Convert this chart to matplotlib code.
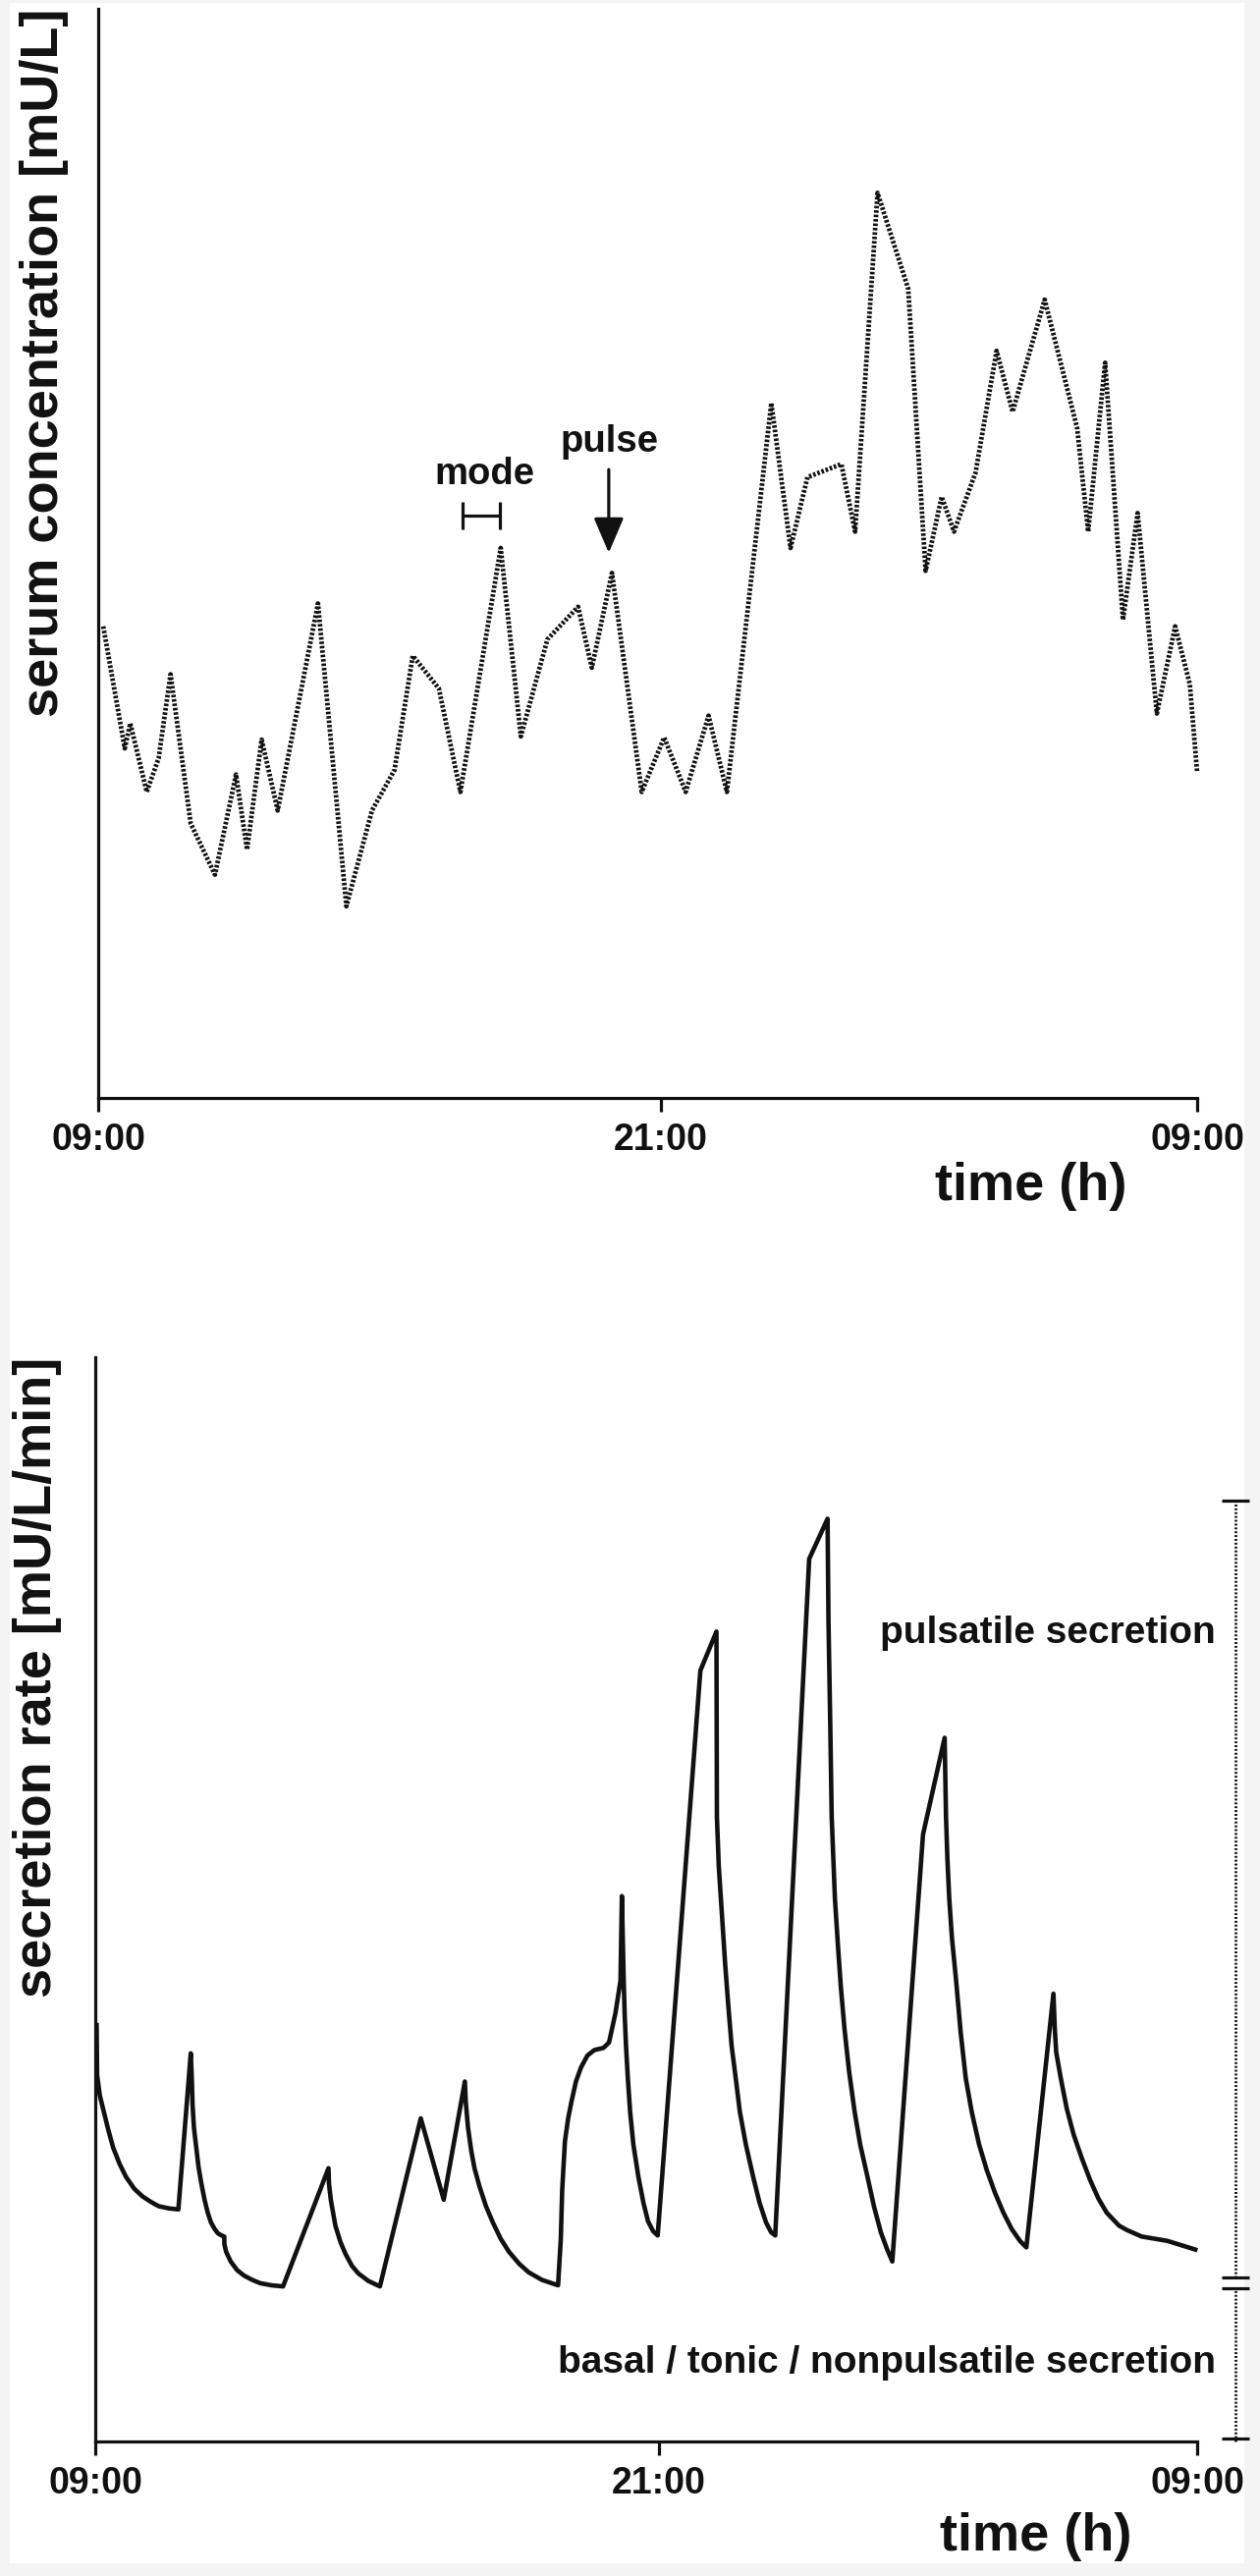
import matplotlib
matplotlib.use("Agg")
import matplotlib.pyplot as plt
import matplotlib.transforms as mtransforms
from matplotlib.patches import Rectangle, FancyArrowPatch

# ---------------- data ----------------
tick_hours = [0, 12.28, 24]
tick_labels = ["09:00", "21:00", "09:00"]

# serum concentration (arbitrary units, axis 0-100), hours after 09:00
top_hours = [0.11, 0.58, 0.70, 1.06, 1.32, 1.58, 2.02, 2.55, 3.01, 3.25,
             3.57, 3.92, 4.80, 5.42, 5.98, 6.47, 6.87, 7.44, 7.91, 8.79,
             9.23, 9.81, 10.48, 10.78, 11.22, 11.87, 12.36, 12.83, 13.33, 13.73,
             14.70, 15.12, 15.49, 16.23, 16.53, 17.02, 17.69, 18.07, 18.42, 18.69,
             19.16, 19.62, 19.97, 20.67, 21.38, 21.62, 21.99, 22.38, 22.70, 23.12,
             23.52, 23.84, 24.0]
conc = [43.3, 32.1, 34.4, 28.1, 31.2, 38.9, 25.2, 20.5, 29.7, 22.8,
        32.9, 26.4, 45.4, 17.6, 26.4, 30.1, 40.6, 37.6, 28.1, 50.5,
        33.2, 42.1, 45.1, 39.5, 48.2, 28.1, 33.1, 28.1, 35.1, 28.1,
        63.8, 50.5, 57.0, 58.2, 52.0, 83.1, 74.3, 48.4, 55.2, 52.0,
        57.4, 68.6, 63.0, 73.3, 61.5, 52.0, 67.5, 43.9, 53.7, 35.3,
        43.3, 38.0, 29.9]

# secretion rate (arbitrary units, axis 0-100)
sec_hours = [0.03, 0.04, 0.10, 0.17, 0.28, 0.39, 0.53, 0.67, 0.85, 1.03,
             1.21, 1.38, 1.60, 1.81, 2.08, 2.10, 2.12, 2.15, 2.20, 2.25,
             2.31, 2.38, 2.45, 2.52, 2.60, 2.67, 2.75, 2.81, 2.812, 2.85,
             2.95, 3.09, 3.24, 3.42, 3.59, 3.84, 4.09, 5.08, 5.09, 5.13,
             5.18, 5.23, 5.34, 5.45, 5.59, 5.73, 5.95, 6.20, 7.09, 7.59,
             8.05, 8.07, 8.12, 8.19, 8.26, 8.37, 8.51, 8.66, 8.83, 9.01,
             9.23, 9.44, 9.73, 10.08, 10.14, 10.17, 10.23, 10.30, 10.37, 10.47,
             10.58, 10.72, 10.87, 11.07, 11.19, 11.33, 11.44, 11.47, 11.51, 11.53,
             11.56, 11.60, 11.65, 11.72, 11.83, 11.94, 12.04, 12.15, 12.25, 13.18,
             13.53, 13.54, 13.58, 13.65, 13.72, 13.79, 13.86, 13.95, 14.04, 14.17,
             14.33, 14.47, 14.61, 14.72, 14.81, 15.55, 15.95, 15.97, 16.01, 16.04,
             16.11, 16.18, 16.24, 16.32, 16.42, 16.54, 16.66, 16.82, 16.96, 17.11,
             17.24, 17.36, 18.03, 18.50, 18.53, 18.56, 18.60, 18.66, 18.75, 18.85,
             18.96, 19.09, 19.25, 19.42, 19.60, 19.78, 19.96, 20.14, 20.28, 20.87,
             20.90, 20.93, 21.03, 21.16, 21.31, 21.49, 21.67, 21.85, 22.03, 22.30,
             22.47, 22.79, 23.35, 23.96]
sec_rate = [38.4, 33.8, 31.9, 30.7, 28.8, 27.1, 25.6, 24.4, 23.3, 22.6,
            22.1, 21.7, 21.5, 21.4, 35.8, 33.8, 31.0, 28.9, 27.1, 25.3,
            23.8, 22.3, 21.1, 20.2, 19.6, 19.2, 19.0, 18.9, 18.2, 17.5,
            16.6, 15.8, 15.3, 14.9, 14.6, 14.4, 14.3, 25.2, 23.8, 22.3,
            21.1, 19.9, 18.4, 17.3, 16.2, 15.5, 14.8, 14.3, 29.8, 22.3,
            33.2, 31.3, 28.9, 26.8, 25.2, 23.5, 21.7, 20.2, 18.7, 17.5,
            16.4, 15.6, 14.9, 14.4, 18.7, 23.2, 27.7, 29.8, 31.3, 33.2,
            34.5, 35.6, 36.1, 36.3, 36.8, 39.5, 42.5, 50.3, 42.5, 39.5,
            36.5, 33.5, 30.4, 27.4, 24.4, 22.0, 20.3, 19.4, 19.0, 71.1,
            74.7, 57.6, 53.1, 48.6, 44.0, 40.1, 36.5, 33.5, 30.4, 27.4,
            24.4, 22.0, 20.2, 19.3, 19.0, 81.4, 85.1, 75.7, 65.8, 57.6,
            50.1, 45.5, 41.9, 38.0, 34.1, 30.4, 27.4, 24.4, 21.7, 19.3,
            17.8, 16.6, 56.0, 64.9, 57.6, 53.8, 50.1, 46.4, 42.5, 37.7,
            33.5, 30.4, 27.4, 25.0, 22.9, 21.1, 19.6, 18.5, 17.9, 41.3,
            38.0, 35.9, 33.5, 30.7, 28.3, 26.1, 24.1, 22.4, 21.1, 19.9,
            19.5, 18.9, 18.5, 17.7]

# ranges marked by the bracket on the right of the lower panel
pulsatile_range = [15.1, 86.8]
basal_range = [0.0, 14.1]

assert len(top_hours) == len(conc)
assert len(sec_hours) == len(sec_rate)

# ---------------- style ----------------
plt.rcParams['font.family'] = ['Liberation Sans', 'DejaVu Sans']
plt.rcParams['font.weight'] = 'bold'
INK = '#111111'

W, H = 1283, 2623
fig = plt.figure(figsize=(W / 100, H / 100), dpi=100)
fig.patch.set_facecolor('#f4f4f4')
fig.add_artist(Rectangle((10 / W, 1 - 2610 / H), (1267 - 10) / W, (2610 - 3) / H,
                         transform=fig.transFigure, facecolor='white',
                         edgecolor='none', zorder=-10))


def rect(l, r, t, b):
    return [l / W, 1 - b / H, (r - l) / W, (b - t) / H]


ax1 = fig.add_axes(rect(100, 1219, 9, 1118))
ax2 = fig.add_axes(rect(97, 1219, 1382, 2486))

for ax in (ax1, ax2):
    ax.set_facecolor('none')
    ax.set_xlim(0, 24)
    ax.set_ylim(0, 100)
    for s in ('top', 'right'):
        ax.spines[s].set_visible(False)
    for s in ('left', 'bottom'):
        ax.spines[s].set_linewidth(2.3)
        ax.spines[s].set_color(INK)
    ax.set_yticks([])
    ax.set_xticks(tick_hours)
    ax.set_xticklabels(tick_labels)
    ax.tick_params(axis='x', length=10, width=2.3, direction='out', pad=8,
                   labelsize=27, color=INK, labelcolor=INK)
    for lab in ax.get_xticklabels():
        lab.set_fontweight('bold')

# upper panel: dotted serum concentration
ax1.plot(top_hours, conc, color=INK, lw=3.4, linestyle=(0, (0.55, 0.4)),
         dash_capstyle='butt', solid_joinstyle='miter', clip_on=False)

# mode marker
ax1.plot([7.96, 8.77], [53.5, 53.5], color=INK, lw=2.3, solid_capstyle='butt')
ax1.plot([7.96, 7.96], [52.2, 54.7], color=INK, lw=2.3, solid_capstyle='butt')
ax1.plot([8.77, 8.77], [52.2, 54.7], color=INK, lw=2.3, solid_capstyle='butt')
ax1.text(8.43, 56.4, 'mode', ha='center', va='baseline', fontsize=27.5,
         fontweight='bold', color=INK)

# pulse arrow
arr = FancyArrowPatch((11.15, 57.7), (11.15, 50.05),
                      arrowstyle='-|>,head_length=1.1,head_width=0.47',
                      mutation_scale=20, lw=2.3, color=INK,
                      shrinkA=0, shrinkB=0)
ax1.add_patch(arr)
ax1.text(11.17, 59.3, 'pulse', ha='center', va='baseline', fontsize=27.5,
         fontweight='bold', color=INK)

# lower panel: secretion rate
ax2.plot(sec_hours, sec_rate, color=INK, lw=3.3, solid_joinstyle='round',
         clip_on=False)

# right-hand bracket
trans = mtransforms.blended_transform_factory(ax2.transAxes, ax2.transData)
xb = (1258 - 97) / 1122
cw = 14 / 1122
dot = dict(color=INK, lw=2.0, linestyle=(0, (0.7, 0.7)), dash_capstyle='butt',
           transform=trans, clip_on=False)
solid = dict(color=INK, lw=2.3, solid_capstyle='butt', transform=trans, clip_on=False)
ax2.plot([xb, xb], [pulsatile_range[0], pulsatile_range[1]], **dot)
ax2.plot([xb, xb], [basal_range[0], basal_range[1]], **dot)
ax2.plot([xb - cw, xb + cw], [pulsatile_range[1]] * 2, **solid)
ax2.plot([xb - cw, xb + cw], [pulsatile_range[0]] * 2, **solid)
ax2.plot([xb - cw, xb + cw], [basal_range[1]] * 2, **solid)
ax2.plot([xb - cw, xb + cw], [basal_range[0] + 0.3] * 2, **solid)
xt = (1238 - 97) / 1122
ax2.text(xt, 73.6, 'pulsatile secretion', transform=trans, ha='right',
         va='baseline', fontsize=28, fontweight='bold', color=INK, clip_on=False)
ax2.text(xt, 6.3, 'basal / tonic / nonpulsatile secretion', transform=trans,
         ha='right', va='baseline', fontsize=28, fontweight='bold', color=INK,
         clip_on=False)

# axis titles
fig.text(45 / W, 1 - 9 / H, 'serum concentration [mU/L]', rotation=90,
         ha='center', va='top', fontsize=39, fontweight='bold', color=INK)
fig.text(38 / W, 1 - 1382 / H, 'secretion rate [mU/L/min]', rotation=90,
         ha='center', va='top', fontsize=39, fontweight='bold', color=INK)
fig.text(1050 / W, 1 - 1222 / H, 'time (h)', ha='center', va='baseline',
         fontsize=39, fontweight='bold', color=INK)
fig.text(1055 / W, 1 - 2597 / H, 'time (h)', ha='center', va='baseline',
         fontsize=39, fontweight='bold', color=INK)

fig.savefig('out.png', dpi=100, facecolor=fig.get_facecolor())
